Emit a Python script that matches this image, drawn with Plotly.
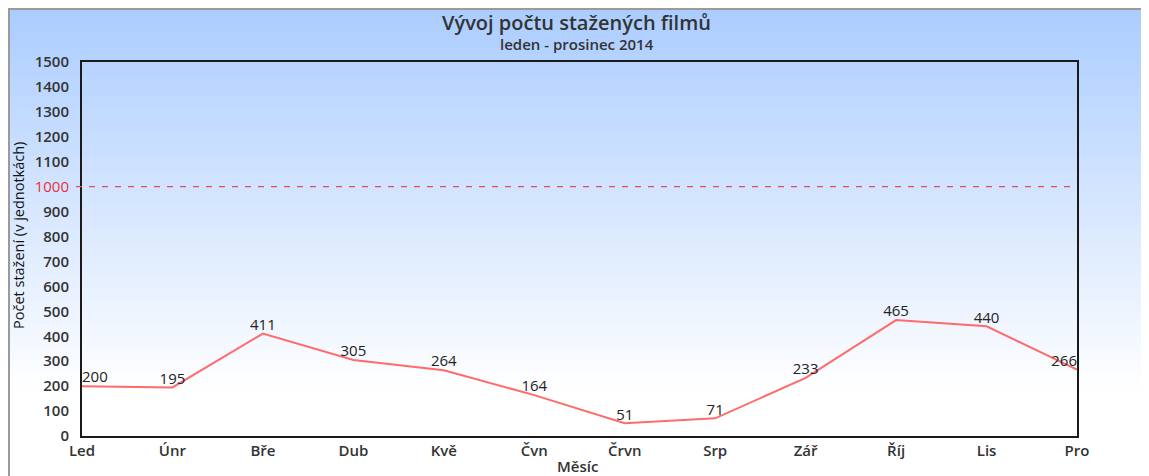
import plotly.graph_objects as go

months = ["Led", "Únr", "Bře", "Dub", "Kvě", "Čvn", "Črvn", "Srp", "Zář", "Říj", "Lis", "Pro"]
downloads = [200, 195, 411, 305, 264, 164, 51, 71, 233, 465, 440, 266]
y_ticks = list(range(0, 1600, 100))
limit_value = 1000

# page body has an 8px margin; figure coordinates are page coordinates minus OFF
OFF = 8
W, H = 1149 - OFF, 476 - OFF
L, R, T, B = 82, 1077, 62, 436  # page pixels of plot area


def px_x(px):
    return (px - L) / (R - L)


def px_y(py):
    return (B - py) / (B - T)


positions = ["top center"] * len(months)
positions[0] = "top right"
positions[-1] = "top left"

fig = go.Figure()
fig.add_trace(go.Scatter(
    x=list(range(len(months))), y=downloads,
    mode="lines+text",
    line=dict(color="#ff6b6b", width=2),
    text=[str(v) for v in downloads],
    textposition=positions,
    textfont=dict(family="Open Sans", size=15, color="#222222"),
    cliponaxis=False,
    hoverinfo="skip",
))

shapes = []
top_c = (170, 204, 255)
g0, g1 = 6, 392
step = 6
py = 6
while py < 480:
    mid = py + step / 2
    f = min(max((mid - g0) / (g1 - g0), 0), 1)
    c = tuple(round(top_c[i] + (255 - top_c[i]) * f) for i in range(3))
    shapes.append(dict(type="rect", xref="paper", yref="paper",
                       x0=px_x(9), x1=px_x(1147), y0=px_y(py + step + 0.5), y1=px_y(max(py, 9)),
                       fillcolor="rgb(%d,%d,%d)" % c, line=dict(width=0), layer="below"))
    py += step
shapes.append(dict(type="rect", xref="paper", yref="paper",
                   x0=px_x(9), x1=px_x(1147), y0=px_y(490), y1=px_y(9),
                   fillcolor="rgba(0,0,0,0)", line=dict(color="#9a9a9a", width=2), layer="below"))
shapes.append(dict(type="line", xref="paper", yref="y",
                   x0=px_x(76), x1=1, y0=limit_value, y1=limit_value,
                   line=dict(color="#e0505a", width=1.3, dash="6px,7px"), layer="above"))

ticktext = []
for v in y_ticks:
    if v == limit_value:
        ticktext.append('<span style="color:#e8323c;font-weight:400">%d</span>' % v)
    else:
        ticktext.append(str(v))

annotations = [
    dict(text="Vývoj počtu stažených filmů", xref="paper", yref="paper",
         x=px_x(576), y=px_y(22), showarrow=False, xanchor="center", yanchor="middle",
         font=dict(family="Open Sans", size=20, color="#333333", weight=600)),
    dict(text="leden - prosinec 2014", xref="paper", yref="paper",
         x=px_x(577), y=px_y(44), showarrow=False, xanchor="center", yanchor="middle",
         font=dict(family="Open Sans", size=15, color="#333333", weight=600)),
    dict(text="Počet stažení (v jednotkách)", xref="paper", yref="paper",
         x=px_x(18), y=px_y(236), showarrow=False, xanchor="center", yanchor="middle",
         textangle=-90,
         font=dict(family="Open Sans", size=14.5, color="#111111", weight=500)),
    dict(text="Měsíc", xref="paper", yref="paper",
         x=px_x(577), y=px_y(466), showarrow=False, xanchor="center", yanchor="middle",
         font=dict(family="Open Sans", size=15, color="#333333", weight=600)),
]

fig.update_layout(
    width=W, height=H,
    margin=dict(l=L - OFF, r=W - (R - OFF), t=T - OFF, b=H - (B - OFF), pad=0),
    paper_bgcolor="white",
    plot_bgcolor="rgba(0,0,0,0)",
    showlegend=False,
    shapes=shapes,
    annotations=annotations,
    xaxis=dict(
        range=[0, len(months) - 1],
        tickvals=list(range(len(months))), ticktext=months,
        showgrid=False, zeroline=False,
        showline=True, linecolor="#1a1a1a", linewidth=2, mirror=True,
        ticks="", ticklen=0,
        tickfont=dict(family="Open Sans", size=15, color="#333333", weight=600),
    ),
    yaxis=dict(
        range=[0, 1500],
        tickvals=y_ticks, ticktext=ticktext,
        showgrid=False, zeroline=False,
        showline=True, linecolor="#1a1a1a", linewidth=2, mirror=True,
        ticks="", ticklabelstandoff=8,
        tickfont=dict(family="Open Sans", size=15, color="#333333", weight=600),
    ),
)

fig.write_html("out.html")
